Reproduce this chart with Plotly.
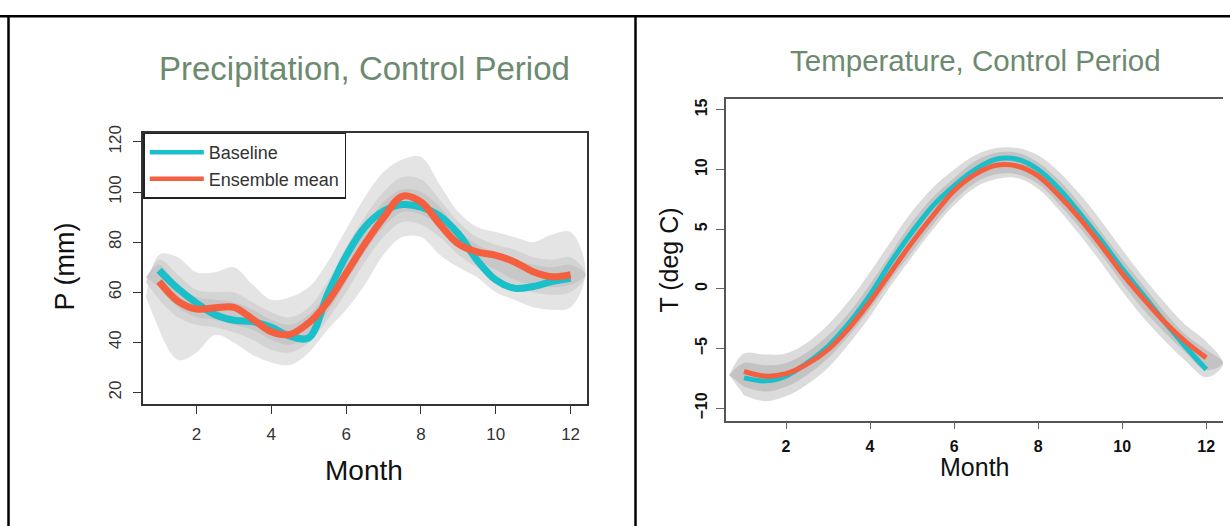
import plotly.graph_objects as go

W, H = 1230, 526

# ---------------- data ----------------
months = [1, 1.5, 2, 2.5, 3, 3.5, 4, 4.5, 5, 5.5, 6, 6.5, 7, 7.5, 8, 8.5, 9, 9.5, 10, 10.5, 11, 11.5, 12]
month_ticks = [2, 4, 6, 8, 10, 12]
# ensemble ribbons reach a little beyond the first / last month
band_months = [0.65] + months + [12.4]

# Precipitation (mm)
p_baseline = [68.8, 61.5, 55.7, 51.0, 48.8, 48.3, 46.0, 42.5, 41.8, 59.0, 74.5, 86.0, 92.4, 95.0, 94.0, 90.5, 83.3, 72.8, 64.9, 61.6, 62.3, 64.3, 65.6]
p_ensemble = [64.3, 56.5, 53.3, 53.8, 54.0, 49.3, 44.2, 43.2, 47.8, 56.0, 67.5, 79.3, 89.8, 98.3, 96.0, 87.2, 79.3, 76.1, 74.7, 72.1, 68.2, 66.2, 67.0]
p_outer_lo = [58, 45, 33, 36, 43, 40, 35, 32, 31, 36, 45, 53, 63, 75, 82, 82, 75, 70, 66, 60, 57, 54, 53, 54, 68]
p_outer_hi = [58, 75, 74, 68, 68, 70, 63, 57, 58, 62, 72, 85, 98, 108, 113, 114, 103, 92, 86, 84, 82, 80, 83, 84, 68]
p_mid_lo = [64, 57, 50, 47, 46, 44, 41, 37, 36, 40, 49, 60, 72, 82, 88, 87, 82, 75, 70, 66, 62, 60, 59, 60, 67]
p_mid_hi = [64, 73, 67, 61, 60, 60, 56, 52, 50, 54, 64, 78, 90, 100, 106, 105, 97, 88, 82, 79, 77, 74, 73, 74, 67]
p_in_lo = [66, 62, 54, 50, 49, 47, 45, 41, 39, 43, 52, 64, 76, 86, 92, 91, 86, 78, 73, 69, 65, 63, 62, 63, 67]
p_in_hi = [66, 71, 63, 58, 57, 56, 53, 49, 47, 51, 60, 74, 86, 96, 101, 100, 94, 85, 79, 76, 73, 71, 70, 71, 67]
p_yticks = [20, 40, 60, 80, 100, 120]

# Temperature (deg C)
t_baseline = [-7.45, -7.7, -7.3, -6.2, -4.8, -2.87, -0.5, 2.26, 4.76, 6.98, 8.64, 10.0, 10.86, 10.86, 10.0, 8.37, 6.3, 4.07, 1.7, -0.5, -2.73, -4.8, -6.75]
t_ensemble = [-6.9, -7.3, -7.1, -6.3, -5.08, -3.28, -1.06, 1.43, 3.9, 6.15, 8.23, 9.6, 10.36, 10.3, 9.47, 7.8, 5.87, 3.65, 1.3, -0.79, -2.73, -4.39, -5.77]
t_outer_lo = [-7.2, -8.9, -9.4, -9.0, -8.0, -6.6, -4.6, -2.3, 0.3, 2.7, 5.0, 7.0, 8.5, 9.2, 9.3, 8.4, 6.6, 4.5, 2.2, -0.2, -2.4, -4.3, -6.0, -7.4, -6.3]
t_outer_hi = [-7.2, -5.4, -5.5, -5.4, -4.5, -3.0, -1.0, 1.4, 4.0, 6.5, 8.5, 10.0, 11.2, 11.8, 11.8, 11.2, 9.8, 7.9, 5.7, 3.3, 1.0, -1.1, -3.0, -4.4, -6.3]
t_in_lo = [-7.2, -8.2, -8.6, -8.2, -7.2, -5.8, -3.9, -1.7, 0.8, 3.1, 5.4, 7.4, 8.9, 9.6, 9.6, 8.8, 7.1, 5.1, 2.9, 0.5, -1.7, -3.6, -5.3, -6.8, -6.2]
t_in_hi = [-7.2, -6.2, -6.4, -6.2, -5.3, -3.9, -2.0, 0.4, 3.0, 5.6, 7.7, 9.3, 10.7, 11.4, 11.4, 10.6, 9.1, 7.1, 4.8, 2.5, 0.3, -1.9, -3.8, -5.1, -6.2]
t_yticks = [-10, -5, 0, 5, 10, 15]

# ---------------- style ----------------
CYAN = "#19BFC9"
RED = "#F4603F"
TITLE_COL = "#6C8A6F"
FONT = "Liberation Sans, Arial, sans-serif"

fig = go.Figure()


def band(lo, hi, color, xa, ya):
    # closed ribbon: along the upper edge, then back along the lower edge
    xs = band_months + band_months[-2:0:-1]
    ys = hi + lo[-2:0:-1]
    fig.add_trace(go.Scatter(x=xs, y=ys, fill="toself", fillcolor=color, mode="lines",
                             line=dict(width=0, shape="spline", smoothing=1.0),
                             hoverinfo="skip", showlegend=False, xaxis=xa, yaxis=ya))


# precipitation bands
band(p_outer_lo, p_outer_hi, "#e4e4e4", "x", "y")
band(p_mid_lo, p_mid_hi, "#d4d4d4", "x", "y")
band(p_in_lo, p_in_hi, "#c7c7c7", "x", "y")
# temperature bands
band(t_outer_lo, t_outer_hi, "#dbdbdb", "x2", "y2")
band(t_in_lo, t_in_hi, "#c3c3c3", "x2", "y2")

fig.add_trace(go.Scatter(x=months, y=p_baseline, mode="lines", showlegend=False,
                         line=dict(color=CYAN, width=7, shape="spline"), xaxis="x", yaxis="y"))
fig.add_trace(go.Scatter(x=months, y=p_ensemble, mode="lines", showlegend=False,
                         line=dict(color=RED, width=7, shape="spline"), xaxis="x", yaxis="y"))
fig.add_trace(go.Scatter(x=months, y=t_baseline, mode="lines", showlegend=False,
                         line=dict(color=CYAN, width=5, shape="spline"), xaxis="x2", yaxis="y2"))
fig.add_trace(go.Scatter(x=months, y=t_ensemble, mode="lines", showlegend=False,
                         line=dict(color=RED, width=5, shape="spline"), xaxis="x2", yaxis="y2"))
# legend entries (thinner keys as in the original legend)
fig.add_trace(go.Scatter(x=[None], y=[None], mode="lines", name="Baseline",
                         line=dict(color=CYAN, width=4.5), xaxis="x", yaxis="y"))
fig.add_trace(go.Scatter(x=[None], y=[None], mode="lines", name="Ensemble mean",
                         line=dict(color=RED, width=4.5), xaxis="x", yaxis="y"))

# panel geometry in pixels
L = dict(x0=143.3, x1=586.7, y0=127.3, y1=402.0)
R = dict(x0=725.7, x1=1223.0, y0=93.0, y1=419.3)


def px(x):
    return x / W


def py(y):
    return 1 - y / H


common_axis = dict(showgrid=False, zeroline=False, ticks="outside", showline=True)

fig.update_layout(
    width=W, height=H,
    margin=dict(l=0, r=0, t=0, b=0),
    paper_bgcolor="white", plot_bgcolor="white",
    font=dict(family=FONT, color="#333333"),
    xaxis=dict(domain=[px(L["x0"]), px(L["x1"])], range=[0.578, 12.43], tickvals=month_ticks,
               mirror=True, linecolor="#333333", linewidth=1.5, ticklen=9, tickcolor="#333333",
               tickwidth=1.3, tickfont=dict(size=17, color="#333333"), anchor="y",
               ticklabelstandoff=5, **common_axis),
    yaxis=dict(domain=[py(L["y1"]), py(L["y0"])], range=[15.55, 123.7], tickvals=p_yticks,
               mirror=True, linecolor="#333333", linewidth=1.5, ticklen=9, tickcolor="#333333",
               tickwidth=1.3, tickangle=-90, tickfont=dict(size=17, color="#333333"), anchor="x",
               ticklabelstandoff=5, **common_axis),
    xaxis2=dict(domain=[px(R["x0"]), px(R["x1"])], range=[0.565, 12.40], tickvals=month_ticks,
                mirror=True, linecolor="#555555", linewidth=1.5, ticklen=7, tickcolor="#666666",
                tickwidth=1.3, tickfont=dict(size=16, color="#111111", weight="bold"), anchor="y2",
                ticklabelstandoff=3, **common_axis),
    yaxis2=dict(domain=[py(R["y1"]), py(R["y0"])], range=[-11.04, 15.93], tickvals=t_yticks,
                mirror=False, linecolor="#555555", linewidth=1.5, ticklen=8, tickcolor="#666666",
                tickwidth=1.3, tickangle=-90, tickfont=dict(size=16, color="#111111", weight="bold"),
                anchor="x2", ticklabelstandoff=3, **common_axis),
    legend=dict(x=px(L["x0"]), y=py(L["y0"]), xanchor="left", yanchor="top",
                bordercolor="#222222", borderwidth=1.5, bgcolor="white",
                font=dict(size=18, color="#333333"), itemwidth=54, tracegroupgap=0),
    showlegend=True,
)

annotations = [
    dict(text="Precipitation, Control Period", x=px(364), y=py(62), font=dict(size=33, color=TITLE_COL)),
    dict(text="Temperature, Control Period", x=px(975), y=py(54), font=dict(size=29.5, color=TITLE_COL)),
    dict(text="Month", x=px(364), y=py(470), font=dict(size=28, color="#111111")),
    dict(text="Month", x=px(974), y=py(466), font=dict(size=25, color="#111111")),
    dict(text="P (mm)", x=px(64), y=py(263), textangle=-90, font=dict(size=27, color="#111111")),
    dict(text="T (deg C)", x=px(669), y=py(257), textangle=-90, font=dict(size=25, color="#111111")),
]
for a in annotations:
    a.update(xref="paper", yref="paper", showarrow=False, xanchor="center", yanchor="middle")
fig.update_layout(annotations=annotations)

# outer frame lines (top, left, divider)
frame = dict(type="line", xref="paper", yref="paper", line=dict(color="black", width=2.5))
fig.update_layout(shapes=[
    dict(frame, x0=0, x1=1, y0=py(9.5), y1=py(9.5)),
    dict(frame, x0=px(8.5), x1=px(8.5), y0=py(9.5), y1=0),
    dict(frame, x0=px(635.5), x1=px(635.5), y0=py(9.5), y1=0),
])

fig.write_html("out.html")
